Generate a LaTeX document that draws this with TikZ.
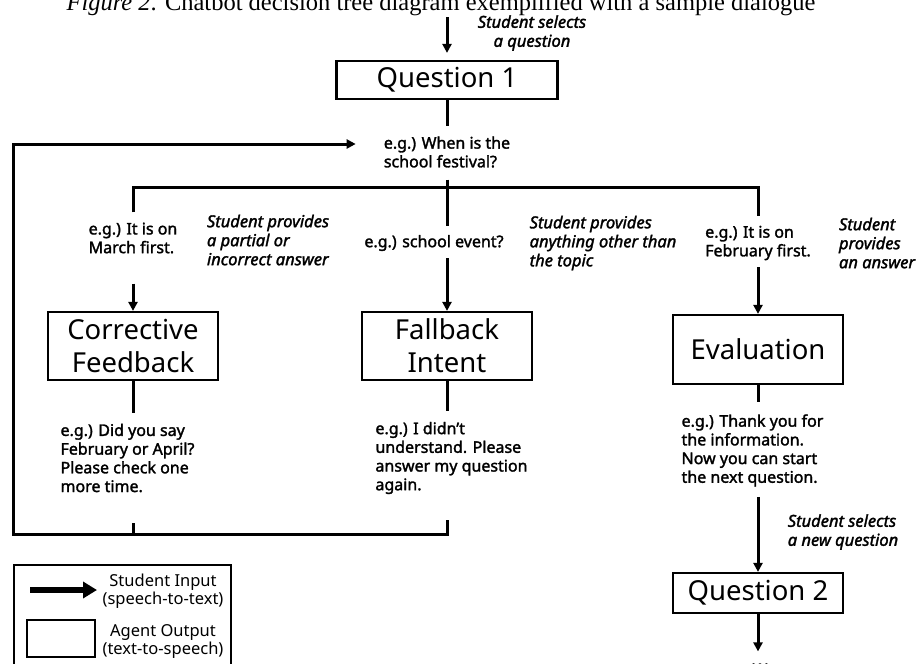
\documentclass[tikz,border=0pt]{standalone}
\usepackage{fontspec}
\setmainfont{Noto Sans}
\newfontfamily\egfont{Noto Sans}[FakeBold=1.8]
\newfontfamily\captionfont{Liberation Serif}
\usetikzlibrary{arrows.meta,positioning}
\tikzset{
every picture/.style={line join=miter},
agent box/.style={
  draw=black,
  line width=2.2pt,
  minimum width=170pt,
  minimum height=68pt,
  align=center,
  inner sep=2pt,
  font=\fontsize{27.5}{33}\selectfont
},
flow link/.style={draw=black, line width=3pt},
flow arrow/.style={flow link, -{Triangle[length=9pt,width=9pt]}},
eg label/.style={align=left, inner sep=0pt, font=\egfont\fontsize{16}{18.7}\selectfont},
cue label/.style={align=left, inner sep=0pt, font=\egfont\itshape\fontsize{16.5}{19}\selectfont},
legend label/.style={align=center, inner sep=0pt, font=\fontsize{16.5}{18}\selectfont}
}
\begin{document}
\begin{tikzpicture}[x=1pt,y=-1pt]
\useasboundingbox (0,0) rectangle (919,664);
% caption, cut at the top edge
\node[anchor=base, inner sep=0pt, font=\captionfont\fontsize{24.5}{24.5}\selectfont] (caption) at (441,10)
  {\textit{Figure 2}. Chatbot decision tree diagram exemplified with a sample dialogue};
% first question
\coordinate (entry) at (447,17);
\node[agent box, minimum width=221pt, minimum height=38pt] (q1) at (447,80) {Question 1};
\draw[flow arrow, shorten >=7pt] (entry) -- (q1);
\node[cue label, align=center] (pick1) at (532,33) {Student selects\\a question};
\node[eg label] (ask) at (447,152) {e.g.) When is the\\school festival?};
\draw[flow link, shorten >=10pt] (q1) -- (ask);
% three answers
\coordinate (split) at (447,187);
\node[eg label] (march) at (133,238) {e.g.) It is on\\March first.};
\node[eg label] (event) at (434,243) {e.g.) school event?};
\node[eg label] (feb) at (758,243) {e.g.) It is on\\February first.};
\draw[flow link, shorten <=10pt, shorten >=10pt] (march) |- (split) -| (feb);
\draw[flow link, shorten <=12pt, shorten >=9pt] (ask) -- (ask |- event.north);
\node[cue label] (partial) at (268,240) {Student provides\\a partial or\\incorrect answer};
\node[cue label] (other) at (603,243) {Student provides\\anything other than\\the topic};
\node[cue label] (answer) at (877,243) {Student\\provides\\an answer};
% agent outputs
\node[agent box] (cf) at (133,346) {Corrective\\Feedback};
\node[agent box] (fb) at (447,346) {Fallback\\Intent};
\node[agent box, minimum height=69pt] (ev) at (758,349.5) {Evaluation};
\draw[flow arrow, shorten <=30pt] (march) -- (cf);
\draw[flow arrow, shorten <=7pt] (event.south -| fb) -- (fb);
\draw[flow arrow, shorten <=7pt] (feb) -- (ev);
\node[eg label] (cfr) at (127.5,458) {e.g.) Did you say\\February or April?\\Please check one\\more time.};
\node[eg label] (fbr) at (451.5,458) {e.g.) I didn’t\\understand. Please\\answer my question\\again.};
\node[eg label] (evr) at (752.5,450.5) {e.g.) Thank you for\\the information.\\Now you can start\\the next question.};
\draw[flow link, shorten >=11pt] (cf) -- (cf |- cfr.north);
\draw[flow link, shorten >=11pt] (fb) -- (fb |- fbr.north);
\draw[flow link, shorten >=12pt] (ev) -- (ev |- evr.north);
% back to the question
\coordinate (loop) at (13,534);
\draw[flow link, shorten <=31pt] (cfr.south -| cf) -- (cf |- loop);
\draw[flow arrow, shorten <=26pt, shorten >=28pt] (fbr.south -| fb) |- (loop) |- ([yshift=8pt]ask.west);
% next question
\node[cue label] (pick2) at (843,532) {Student selects\\a new question};
\node[agent box, minimum height=40pt] (q2) at (758,593) {Question 2};
\draw[flow arrow, shorten <=10pt] (evr.south -| ev) -- (q2);
\node[anchor=base, inner sep=0pt, font=\egfont\fontsize{24}{24}\selectfont] (more) at (760,666.5) {...};
\draw[flow arrow, shorten >=12pt] (q2) -- (more.north -| q2);
% legend
\node[draw, line width=2pt, anchor=north west, minimum width=217pt, minimum height=130pt] (legend) at (13,564) {};
\coordinate (keytail) at (30,590);
\coordinate (keyhead) at (97,590);
\draw[line width=6pt, -{Triangle[length=14pt,width=16pt]}] (keytail) -- (keyhead);
\node[draw, line width=2pt, minimum width=68pt, minimum height=37pt] (keybox) at (61,638.5) {};
\node[legend label] (keyinput) at (163,591) {Student Input\\(speech-to-text)};
\node[legend label] (keyoutput) at (163,641) {Agent Output\\(text-to-speech)};
\end{tikzpicture}
\end{document}
